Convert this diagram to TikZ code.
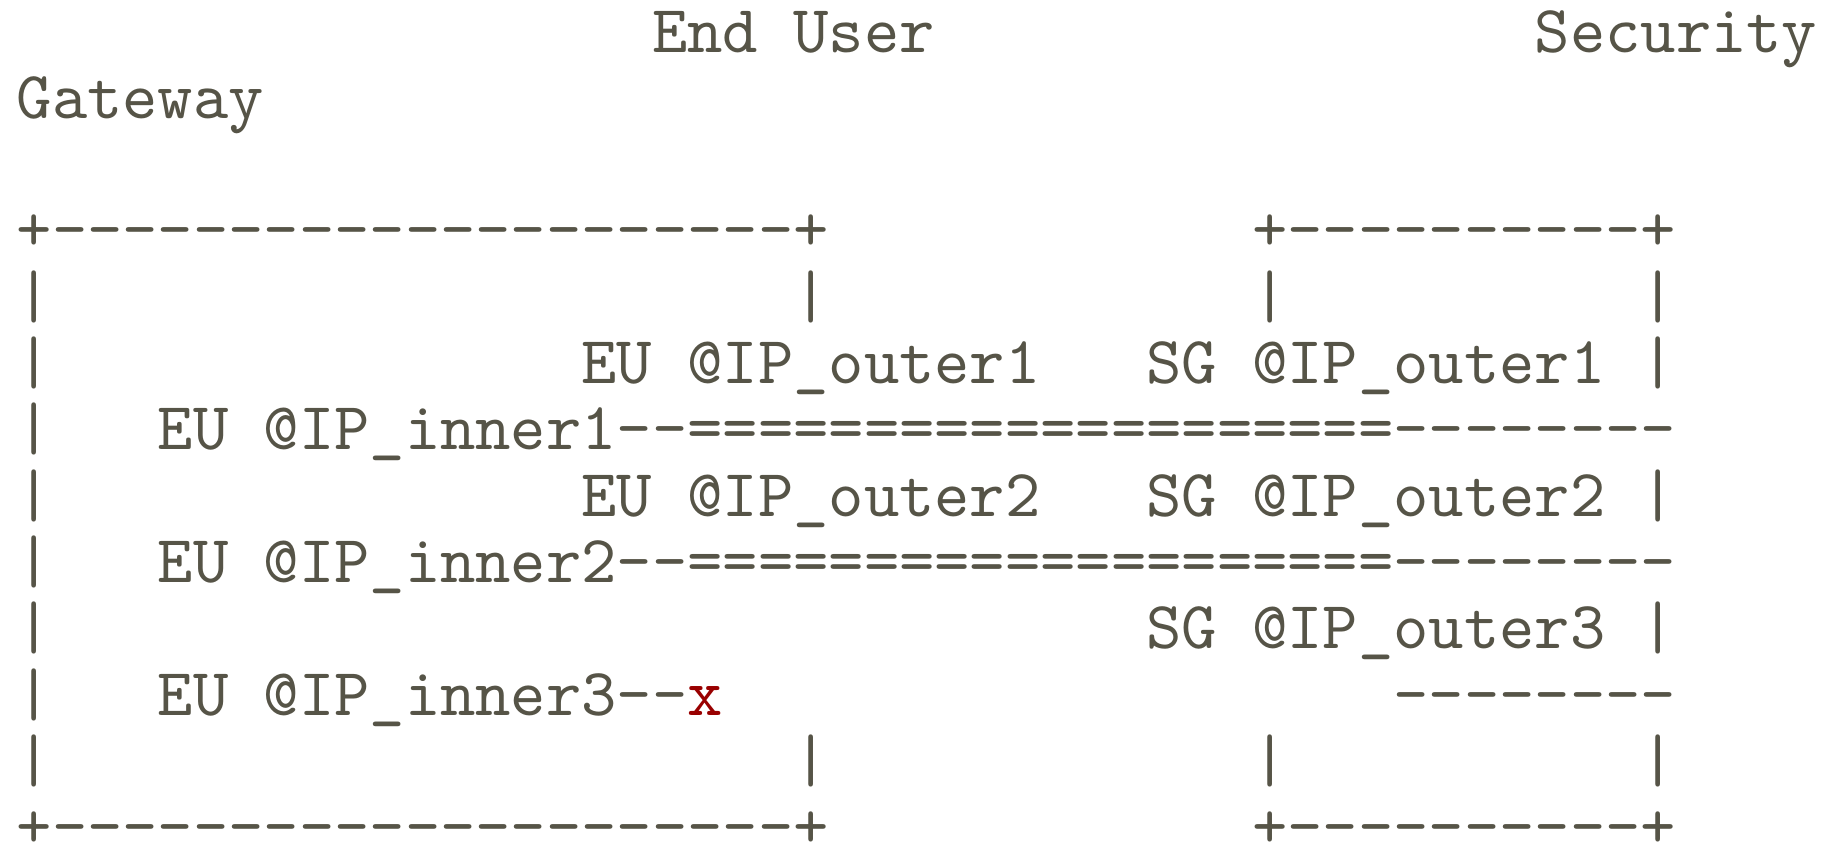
\documentclass[tikz,border=0pt]{standalone}
\usepackage{tikz}
\usepackage{xcolor}

\definecolor{asciigray}{RGB}{86,84,71}
\definecolor{cutred}{RGB}{153,0,0}

% a run of hyphens that never turns into a dash ligature
\newcommand{\dashrun}[1]{\foreach \k in {1,...,#1}{-}}

\tikzset{ascii/.style={anchor=base west, inner sep=0pt, text=asciigray, font=\fontsize{10}{12}\selectfont\ttfamily}}

\begin{document}
\begin{tikzpicture}[x=5.25pt, y=9.86pt]
	\useasboundingbox (-0.436,0.784) rectangle (51.40,-11.962);

	\node[ascii] (eu-title) at (18,0) {End User};
	\node[ascii] (sg-title) at (43,0) {Security};
	\node[ascii] (sg-title2) at (0,-1) {Gateway};

	% top edges
	\node[ascii] (eu-top) at (0,-3) {+\dashrun{21}+};
	\node[ascii] (sg-top) at (35,-3) {+\dashrun{10}+};

	\node[ascii] (eu-l4) at (0,-4) {|};
	\node[ascii] (eu-r4) at (22,-4) {|};
	\node[ascii] (sg-l4) at (35,-4) {|};
	\node[ascii] (sg-r4) at (46,-4) {|};

	% first tunnel
	\node[ascii] (eu-l5) at (0,-5) {|};
	\node[ascii] (eu-outer1) at (16,-5) {EU @IP\_outer1};
	\node[ascii] (sg-outer1) at (32,-5) {SG @IP\_outer1};
	\node[ascii] (sg-r5) at (46,-5) {|};
	\node[ascii] (eu-l6) at (0,-6) {|};
	\node[ascii] (eu-inner1) at (4,-6) {EU @IP\_inner1};
	\node[ascii] (tunnel1) at (17,-6) {\dashrun{2}====================\dashrun{8}};

	% second tunnel
	\node[ascii] (eu-l7) at (0,-7) {|};
	\node[ascii] (eu-outer2) at (16,-7) {EU @IP\_outer2};
	\node[ascii] (sg-outer2) at (32,-7) {SG @IP\_outer2};
	\node[ascii] (sg-r7) at (46,-7) {|};
	\node[ascii] (eu-l8) at (0,-8) {|};
	\node[ascii] (eu-inner2) at (4,-8) {EU @IP\_inner2};
	\node[ascii] (tunnel2) at (17,-8) {\dashrun{2}====================\dashrun{8}};

	% third, broken one
	\node[ascii] (eu-l9) at (0,-9) {|};
	\node[ascii] (sg-outer3) at (32,-9) {SG @IP\_outer3};
	\node[ascii] (sg-r9) at (46,-9) {|};
	\node[ascii] (eu-l10) at (0,-10) {|};
	\node[ascii] (eu-inner3) at (4,-10) {EU @IP\_inner3\dashrun{2}};
	\node[ascii, text=cutred] (cut) at (19,-10) {x};
	\node[ascii] (sg-stub) at (39,-10) {\dashrun{8}};

	\node[ascii] (eu-l11) at (0,-11) {|};
	\node[ascii] (eu-r11) at (22,-11) {|};
	\node[ascii] (sg-l11) at (35,-11) {|};
	\node[ascii] (sg-r11) at (46,-11) {|};

	% bottom edges
	\node[ascii] (eu-bot) at (0,-12) {+\dashrun{21}+};
	\node[ascii] (sg-bot) at (35,-12) {+\dashrun{10}+};

\end{tikzpicture}
\end{document}
